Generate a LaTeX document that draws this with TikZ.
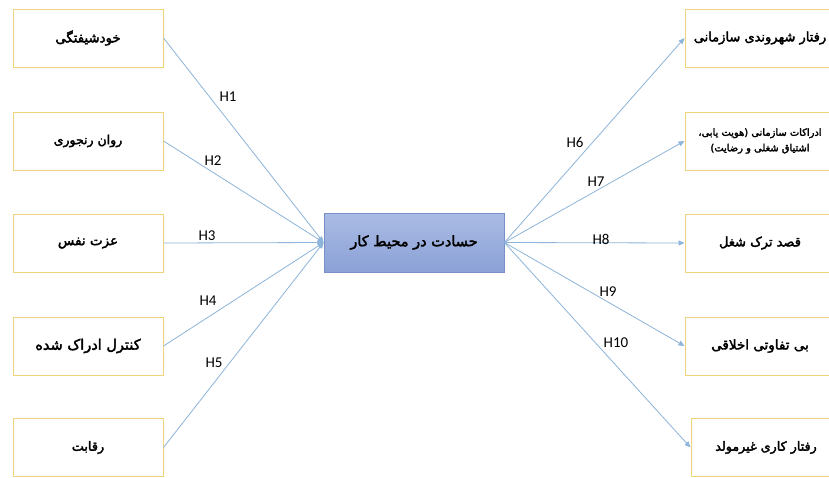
\documentclass[tikz,border=0pt]{standalone}
\usepackage{fontspec}
\setmainfont{Carlito}
\newfontfamily\fa[Script=Arabic,FakeBold=2.6]{DejaVu Sans}
\newcommand\fsz[1]{\fa\fontsize{#1}{15}\selectfont}
\TeXXeTstate=1
\usetikzlibrary{arrows.meta}
\definecolor{boxline}{HTML}{EFD47C}
\definecolor{linec}{HTML}{8DB4DA}
\definecolor{ctop}{HTML}{AABBE4}
\definecolor{cbot}{HTML}{8BA1D7}
\definecolor{cline}{HTML}{7890C6}
\begin{document}
\begin{tikzpicture}[x=1pt,y=-1pt,
  vbox/.style={draw=boxline, line width=1pt, fill=white, minimum width=150pt, minimum height=58pt,
    inner sep=0pt, font=\fsz{12}, align=center},
  cbox/.style={draw=cline, line width=0.8pt, top color=ctop, bottom color=cbot,
    minimum width=180pt, minimum height=59pt, inner sep=0pt, font=\fsz{14.5}},
  conn/.style={draw=linec, line width=0.8pt, -{Triangle[length=6pt,width=5pt]}},
  hlab/.style={font=\fontsize{15}{18}\selectfont, inner sep=0pt}]
\useasboundingbox (0,0) rectangle (829,477);
\clip (0,0) rectangle (829,477);
\fill[white] (0,0) rectangle (829,477);
% left boxes
\node[vbox, font=\fsz{13.3}] (l1) at (88,38) {\beginR خودشیفتگی\endR};
\node[vbox, font=\fsz{12.5}] (l2) at (88,141) {\beginR روان رنجوری\endR};
\node[vbox, font=\fsz{13.5}] (l3) at (88,243) {\beginR عزت نفس\endR};
\node[vbox, font=\fsz{14.5}] (l4) at (88,346) {\beginR کنترل ادراک شده\endR};
\node[vbox, font=\fsz{12.8}] (l5) at (88,447.5) {\beginR رقابت\endR};
% center
\node[cbox] (c) at (414,242.5) {\beginR حسادت در محیط کار\endR};
% right boxes
\node[vbox, font=\fsz{13}] (r1) at (760,38) {\beginR رفتار شهروندی سازمانی\endR};
\node[vbox, font=\fa\fontsize{9.9}{15.5}\selectfont] (r2) at (760,141) {\beginR ادراکات سازمانی (هویت یابی،\endR\\\beginR اشتیاق شغلی و رضایت)\endR};
\node[vbox, font=\fsz{13}] (r3) at (760,243) {\beginR قصد ترک شغل\endR};
\node[vbox, font=\fsz{13.5}] (r4) at (760,346) {\beginR بی تفاوتی اخلاقی\endR};
\node[vbox, font=\fsz{12.7}] (r5) at (766,447.5) {\beginR رفتار کاری غیرمولد\endR};
% connectors
\foreach \i in {1,...,5} {\draw[conn] (l\i.east) -- (c.west);}
\foreach \i in {1,...,5} {\draw[conn] (c.east) -- (r\i.west);}
% labels
\node[hlab] (h1) at (228,97) {H1};
\node[hlab] (h2) at (213,161) {H2};
\node[hlab] (h3) at (207,236) {H3};
\node[hlab] (h4) at (208,301) {H4};
\node[hlab] (h5) at (214,363) {H5};
\node[hlab] (h6) at (575,142) {H6};
\node[hlab] (h7) at (596,182) {H7};
\node[hlab] (h8) at (601,239) {H8};
\node[hlab] (h9) at (608,292) {H9};
\node[hlab] (h10) at (616,343) {H10};
\end{tikzpicture}
\end{document}
